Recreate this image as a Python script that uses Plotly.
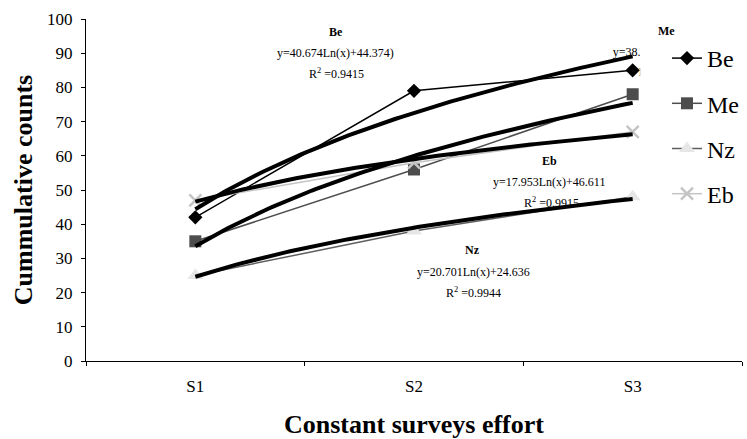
import numpy as np
import plotly.graph_objects as go

# ---- data ----
categories = ["S1", "S2", "S3"]
series_names = ["Be", "Me", "Nz", "Eb"]
be_vals = [42, 79, 85]
me_vals = [35, 56, 78]
nz_vals = [25, 38, 48]
eb_vals = [47, 58, 67]
y_ticks = [0, 10, 20, 30, 40, 50, 60, 70, 80, 90, 100]

# trendline labels (as printed on the chart)
be_eq = "y=40.674Ln(x)+44.374)"
be_r2 = "0.9415"
eb_eq = "y=17.953Ln(x)+46.611"
eb_r2 = "0.9915"
nz_eq = "y=20.701Ln(x)+24.636"
nz_r2 = "0.9944"

FONT = "Liberation Serif, Times New Roman, serif"

styles = {
    "Be": dict(color="#000000", mcolor="#000000", symbol="diamond", size=11, lw=1.5),
    "Me": dict(color="#4d4d4d", mcolor="#4d4d4d", symbol="square", size=12, lw=1.5),
    "Nz": dict(color="#5e5e5e", mcolor="#e6e6e6", symbol="triangle-up", size=14, lw=1.5),
    "Eb": dict(color="#c4c4c4", mcolor="#c4c4c4", symbol="x-thin", size=12, lw=1.5),
}
data = {"Be": be_vals, "Me": me_vals, "Nz": nz_vals, "Eb": eb_vals}

xi = np.arange(len(categories))
fig = go.Figure()

for name in series_names:
    s = styles[name]
    marker = dict(symbol=s["symbol"], size=s["size"], color=s["mcolor"])
    if s["symbol"] == "x-thin":
        marker["line"] = dict(color=s["mcolor"], width=2.5)
    fig.add_trace(go.Scatter(
        x=xi, y=data[name], name=name, mode="lines+markers",
        line=dict(color=s["color"], width=s["lw"]),
        marker=marker, legendgroup=name, cliponaxis=False,
    ))

# logarithmic trendlines fitted to each series (x = 1, 2, 3)
xs = np.linspace(1, 3, 121)
for name in series_names:
    b, a = np.polyfit(np.log(np.arange(1, len(categories) + 1)), data[name], 1)
    fig.add_trace(go.Scatter(
        x=xs - 1, y=b * np.log(xs) + a, mode="lines", showlegend=False,
        line=dict(color="#000000", width=4), hoverinfo="skip", cliponaxis=False,
    ))

# Me trendline equation (mostly hidden behind the legend, as in the source)
b_me, a_me = np.polyfit(np.log([1, 2, 3]), me_vals, 1)
pred = b_me * np.log([1, 2, 3]) + a_me
r2_me = 1 - np.sum((np.array(me_vals) - pred) ** 2) / np.sum((np.array(me_vals) - np.mean(me_vals)) ** 2)
fig.add_trace(go.Scatter(
    x=[2.153, 2.153], y=[90.1, 84.2], mode="text", showlegend=False,
    text=[f"y={b_me:.2f}Ln(x)+{a_me:.3f}", f"R<sup>2</sup> ={r2_me:.4f}"],
    textfont=dict(family=FONT, size=12, color="#000000"), cliponaxis=False, hoverinfo="skip",
))

L, R, T, B = 86, 4, 19, 78
W, H = 747, 439
pw, ph = W - L - R, H - T - B


def px(x):
    return (x - L) / pw


def py(y):
    return (H - B - y) / ph


def lab(x, y, text, bold=False):
    return dict(x=px(x), y=py(y), xref="paper", yref="paper", showarrow=False,
                text=f"<b>{text}</b>" if bold else text,
                font=dict(family=FONT, size=12, color="#000000"),
                xanchor="center", yanchor="middle")


annotations = [
    lab(336, 32, "Be", True), lab(336, 53, be_eq), lab(337, 73, f"R<sup>2</sup> ={be_r2}"),
    lab(550, 161, "Eb", True), lab(550, 182, eb_eq), lab(552, 202, f"R<sup>2</sup> ={eb_r2}"),
    lab(473, 250, "Nz", True), lab(474, 272, nz_eq), lab(474, 292, f"R<sup>2</sup> ={nz_r2}"),
    lab(667, 31, "Me", True),
]

# white legend panel (covers the plot area behind the legend, like the source)
shapes = [dict(type="rect", xref="paper", yref="paper", layer="above",
               x0=px(641), x1=px(W), y0=py(218), y1=py(37),
               fillcolor="white", line=dict(width=0))]

fig.update_layout(
    width=W, height=H,
    margin=dict(l=L, r=R, t=T, b=B, pad=0),
    paper_bgcolor="white", plot_bgcolor="white",
    font=dict(family=FONT, color="#000000"),
    showlegend=True,
    legend=dict(
        x=px(667), y=py(36), xanchor="left", yanchor="top",
        bgcolor="rgba(255,255,255,0)", borderwidth=0,
        font=dict(family=FONT, size=24, color="#000000"),
        tracegroupgap=11, itemwidth=30,
    ),
    annotations=annotations,
    shapes=shapes,
    xaxis=dict(
        range=[-0.5, 2.5], tickmode="array", tickvals=list(xi), ticktext=categories,
        ticks="", showgrid=False, zeroline=False,
        showline=True, linecolor="#000000", linewidth=1,
        tickfont=dict(family=FONT, size=17, color="#000000"),
        ticklabelstandoff=10,
        minor=dict(tickmode="array", tickvals=[-0.5, 0.5, 1.5, 2.5], ticks="outside",
                   ticklen=4, tickcolor="#000000", tickwidth=1, showgrid=False),
        title=dict(text="<b>Constant surveys effort</b>",
                   font=dict(family=FONT, size=26, color="#000000"), standoff=20),
        fixedrange=True,
    ),
    yaxis=dict(
        range=[0, 100], tickmode="array", tickvals=y_ticks,
        ticks="outside", ticklen=4, tickcolor="#000000",
        showgrid=False, zeroline=False,
        showline=True, linecolor="#000000", linewidth=1,
        tickfont=dict(family=FONT, size=17, color="#000000"),
        ticklabelstandoff=5,
        title=dict(text="<b>Cummulative counts</b>",
                   font=dict(family=FONT, size=26, color="#000000"), standoff=6),
        fixedrange=True,
    ),
)

fig.write_html("out.html", config={"displayModeBar": False},
               post_script="document.body.style.margin='0px';")
